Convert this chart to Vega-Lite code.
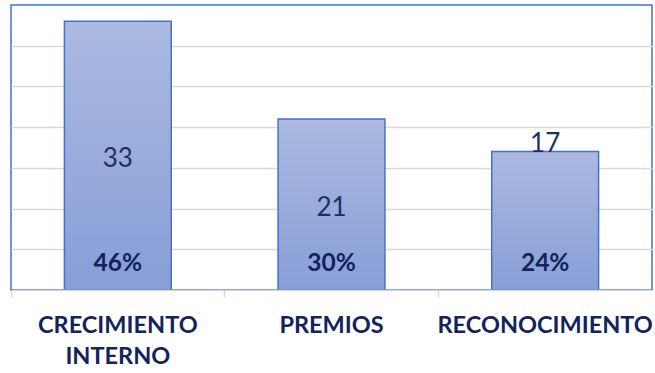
{
  "$schema": "https://vega.github.io/schema/vega-lite/v6.json",
  "width": 641,
  "height": 285,
  "autosize": "none",
  "padding": {"left": 11, "top": 5, "right": 3, "bottom": 83},
  "background": "white",
  "config": {
    "view": {"stroke": "#4472C4", "strokeWidth": 1.5}
  },
  "data": {
    "values": [
      {"category": "CRECIMIENTO INTERNO", "value": 33, "pct": "46%"},
      {"category": "PREMIOS", "value": 21, "pct": "30%"},
      {"category": "RECONOCIMIENTO", "value": 17, "pct": "24%"}
    ]
  },
  "encoding": {
    "x": {
      "field": "category",
      "type": "nominal",
      "sort": null,
      "scale": {"paddingInner": 0.5, "paddingOuter": 0.25},
      "axis": null
    }
  },
  "resolve": {"scale": {"y": "independent"}, "axis": {"x": "independent"}},
  "layer": [
    {
      "mark": {
        "type": "bar",
        "fill": {
          "gradient": "linear", "x1": 0, "y1": 0, "x2": 0, "y2": 1,
          "stops": [{"offset": 0, "color": "#ACBAE1"}, {"offset": 1, "color": "#879ED7"}]
        },
        "stroke": "#4472C4",
        "strokeWidth": 1.5
      },
      "encoding": {
        "x": {
          "field": "category", "type": "nominal", "sort": null,
          "axis": {
            "title": null,
            "labelAngle": 0,
            "ticks": false,
            "domainColor": "#D9D9D9",
            "domainWidth": 1.5,
            "labelFont": "Lato",
            "labelFontWeight": "bold",
            "labelFontSize": 23.5,
            "labelColor": "#13235B",
            "labelPadding": 23,
            "labelBaseline": "top",
            "labelLineHeight": 31,
            "labelLimit": 300,
            "labelOverlap": false,
            "labelExpr": "datum.value == 'CRECIMIENTO INTERNO' ? ['CRECIMIENTO', 'INTERNO'] : datum.value",
            "zindex": 1
          }
        },
        "y": {
          "field": "value", "type": "quantitative",
          "scale": {"domain": [0, 35], "nice": false},
          "axis": {
            "title": null, "labels": false, "ticks": false, "domain": false,
            "values": [5, 10, 15, 20, 25, 30],
            "gridColor": "#D9D9D9", "gridWidth": 1.5
          }
        }
      }
    },
    {
      "transform": [{"filter": "datum.value > 20"}],
      "mark": {"type": "text", "font": "Lato", "fontSize": 26, "color": "#1F3060", "baseline": "middle", "dy": 3},
      "encoding": {
        "x": {"field": "category", "type": "nominal", "sort": null, "axis": null},
        "y": {"field": "value", "type": "quantitative", "scale": {"domain": [0, 70], "nice": false}, "axis": null},
        "text": {"field": "value"}
      }
    },
    {
      "transform": [{"filter": "datum.value < 20"}],
      "mark": {"type": "text", "font": "Lato", "fontSize": 26, "color": "#1F3060", "baseline": "alphabetic", "dy": 0},
      "encoding": {
        "x": {"field": "category", "type": "nominal", "sort": null, "axis": null},
        "y": {"field": "value", "type": "quantitative", "scale": {"domain": [0, 35], "nice": false}, "axis": null},
        "text": {"field": "value"}
      }
    },
    {
      "mark": {"type": "text", "font": "Lato", "fontWeight": "bold", "fontSize": 24.5, "color": "#13235B", "baseline": "middle", "dy": -26},
      "encoding": {
        "x": {
          "field": "category", "type": "nominal", "sort": null,
          "axis": {
            "title": null, "labels": false, "domain": false,
            "ticks": true, "bandPosition": -0.5,
            "tickColor": "#D9D9D9", "tickWidth": 1.5, "tickSize": 7,
            "orient": "bottom", "zindex": 1
          }
        },
        "y": {"datum": 0, "type": "quantitative", "scale": {"domain": [0, 35], "nice": false}, "axis": null},
        "text": {"field": "pct"}
      }
    }
  ]
}
